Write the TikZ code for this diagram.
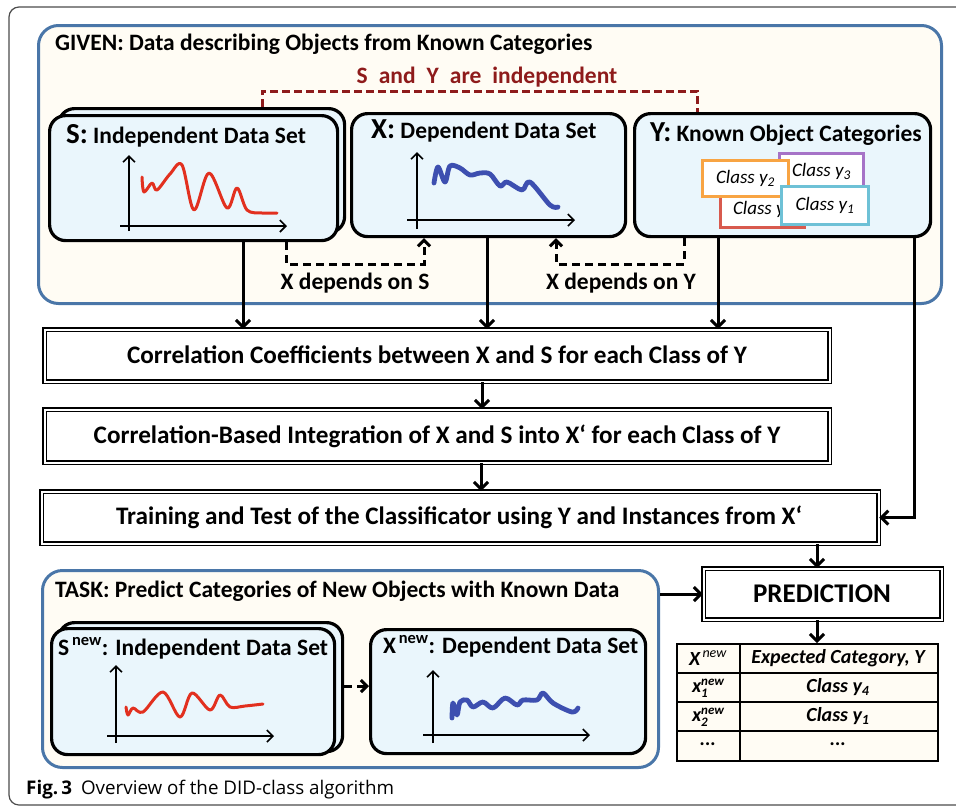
\documentclass[tikz,border=0pt]{standalone}
\usepackage{fontspec}
\setmainfont{Carlito}
\newfontfamily\capfont{Open Sans}
\usetikzlibrary{arrows.meta}
\newcommand\fsz[1]{\fontsize{#1}{#1}\selectfont}
\definecolor{panelblue}{HTML}{4A76A8}
\definecolor{cream}{HTML}{FFFCF4}
\definecolor{lightblue}{HTML}{EAF6FC}
\definecolor{darkred}{HTML}{8E1B1B}
\definecolor{curvered}{HTML}{E2301F}
\definecolor{curveblue}{HTML}{3D4FB0}
\definecolor{corange}{HTML}{F8A443}
\definecolor{cpurple}{HTML}{A673C7}
\definecolor{ccyan}{HTML}{6EC1D6}
\definecolor{cred}{HTML}{D85A4E}
\begin{document}
\begin{tikzpicture}[x=1pt,y=-1pt,
  panel/.style={draw=panelblue,line width=3pt,fill=cream,rounded corners=20pt,inner sep=0pt,anchor=north west},
  databox/.style={draw=black,line width=3.2pt,fill=lightblue,rounded corners=16pt,inner sep=0pt,anchor=north west},
  flowbox/.style={draw=black,double=white,double distance=2.2pt,line width=1.2pt,inner sep=0pt,anchor=north west},
  flowtxt/.style={inner sep=0pt,font=\bfseries\fsz{25.2}},
  cbox/.style={line width=3pt,fill=white,inner sep=0pt,anchor=north west,minimum width=84pt,minimum height=36pt,font=\itshape\fsz{19}},
  arr/.style={line width=3pt,-{Straight Barb[length=7pt,width=14pt]}},
  darr/.style={line width=3pt,dash pattern=on 8pt off 5pt,-{Straight Barb[length=6pt,width=12pt]}},
  reddash/.style={line width=3pt,draw=darkred,dash pattern=on 8pt off 4pt},
  axisarr/.style={line width=1.6pt,-{Straight Barb[length=6pt,width=12pt]}},
  redcurve/.style={line width=3pt,draw=curvered,line cap=round,line join=round},
  bluecurve/.style={line width=4.8pt,draw=curveblue,line cap=round,line join=round},
  lbl/.style={inner sep=0pt,font=\bfseries\fsz{23.5}},
  tcell/.style={inner sep=0pt,font=\bfseries\itshape\fsz{20}}
]
\useasboundingbox (0,0) rectangle (956,807);
% outer frame
\draw[line width=1.2pt,draw=black!70,rounded corners=10pt] (9,7) rectangle (1000,805);

% ===== GIVEN panel =====
\node[panel,minimum width=903pt,minimum height=278pt] (given) at (37,24) {};
\node[lbl,anchor=west] (giventitle) at (55,44) {GIVEN: Data describing Objects from Known Categories};
\node[lbl,text=darkred] (indep) at (487,77) {S\hspace{11pt}and\hspace{11pt}Y\hspace{11pt}are\hspace{11pt}independent};

% S box (stacked)
\node[databox,minimum width=286pt,minimum height=124pt] (Sback) at (57,107) {};
\node[databox,minimum width=288pt,minimum height=125pt] (S) at (48,114) {};
\node[inner sep=0pt,anchor=base west,font=\bfseries] (Stitle) at (66,143) {\fsz{29}S:\fsz{23.5} Independent Data Set};
\draw[axisarr] (129,231) -- (129,155);
\draw[axisarr] (120,226) -- (287,226);
\draw[redcurve] plot[smooth,tension=0.55] coordinates {(142,177) (144,192) (152,183) (157,190) (170,174) (182,165) (194,210) (209,173) (227,208) (237,188) (247,210) (262,213) (277,213)};

% X box
\node[databox,minimum width=274pt,minimum height=123pt] (X) at (350,112) {};
\node[inner sep=0pt,anchor=base west,font=\bfseries] (Xtitle) at (371,138) {\fsz{29}X:\fsz{23.5} Dependent Data Set};
\draw[axisarr] (417,229) -- (417,152);
\draw[axisarr] (407,220) -- (575,220);
\draw[bluecurve] plot[smooth,tension=0.55] coordinates {(434,183) (438,167) (445,182) (450,166) (460,168) (470,175) (480,173) (490,174) (500,186) (507,182) (522,190) (530,182) (550,205) (558,207)};

% Y box
\node[databox,minimum width=296pt,minimum height=123pt] (Y) at (633,112) {};
\node[inner sep=0pt,anchor=base west,font=\bfseries] (Ytitle) at (650,141) {\fsz{29}Y:\fsz{23.5} Known Object Categories};
\node[cbox,draw=cred] (c4) at (719,190) {Class y\textsubscript{4}};
\node[cbox,draw=cpurple] (c3) at (778,152) {Class y\textsubscript{3}};
\node[cbox,draw=corange,minimum width=86pt] (c2) at (701,159) {Class y\textsubscript{2}};
\node[cbox,draw=ccyan,minimum width=87pt,minimum height=38pt] (c1) at (780,185) {Class y\textsubscript{1}};

% dependencies
\coordinate (r1) at (262,91);
\coordinate (r2) at (697,91);
\draw[reddash] (Sback.north -| r1) -- (r1) -- (r2) -- (Y.north -| r2);
\coordinate (d1) at (286,264);
\coordinate (d2) at (424,264);
\coordinate (d3) at (684,264);
\coordinate (d4) at (556,264);
\draw[darr] (S.south -| d1) -- (d1) -- (d2) -- (X.south -| d2);
\draw[darr] (Y.south -| d3) -- (d3) -- (d4) -- (X.south -| d4);
\node[lbl] (depS) at (355,283) {X depends on S};
\node[lbl] (depY) at (621,283) {X depends on Y};

% ===== flow boxes =====
\node[flowbox,minimum width=785pt,minimum height=52pt] (corr) at (44,329) {};
\node[flowtxt] (corrtxt) at (437,355) {Correlation Coefficients between X and S for each Class of Y};
\node[flowbox,minimum width=785pt,minimum height=53pt] (integ) at (44,409) {};
\node[flowtxt] (integtxt) at (437,436) {Correlation-Based Integration of X and S into X‘ for each Class of Y};
\node[flowbox,minimum width=837pt,minimum height=52pt] (train) at (41,491) {};
\node[flowtxt] (traintxt) at (459,517) {Training and Test of the Classificator using Y and Instances from X‘};
\node[flowbox,minimum width=238pt,minimum height=51pt] (pred) at (703,568) {};
\node[inner sep=0pt,font=\bfseries\fsz{27}] (predtxt) at (822,594) {PREDICTION};

\coordinate (a1) at (243,0);
\coordinate (a2) at (487,0);
\coordinate (a3) at (718,0);
\coordinate (a4) at (914,0);
\coordinate (a5) at (482,0);
\coordinate (a6) at (481,0);
\coordinate (a7) at (817,0);
\draw[arr] (S.south -| a1) -- (corr.north -| a1);
\draw[arr] (X.south -| a2) -- (corr.north -| a2);
\draw[arr] (Y.south -| a3) -- (corr.north -| a3);
\draw[arr] (Y.south -| a4) |- (train.east);
\draw[arr] (corr.south -| a5) -- (integ.north -| a5);
\draw[arr] (integ.south -| a6) -- (train.north -| a6);
\draw[arr] (train.south -| a7) -- (pred.north -| a7);

% ===== TASK panel =====
\node[panel,minimum width=616pt,minimum height=197pt] (task) at (41,569) {};
\node[lbl,anchor=west] (tasktitle) at (55,591) {TASK: Predict Categories of New Objects with Known Data};
\node[databox,minimum width=284pt,minimum height=129pt] (Snewback) at (57,621) {};
\node[databox,minimum width=283pt,minimum height=126pt] (Snew) at (50,627) {};
\node[inner sep=0pt,anchor=base west,font=\bfseries\fsz{23.5}] (Snewtitle) at (58,655) {S\textsuperscript{\,new}: Independent Data Set};
\draw[axisarr] (116,743) -- (116,665);
\draw[axisarr] (107,736) -- (274,736);
\draw[redcurve] plot[smooth,tension=0.55] coordinates {(126,707) (128,715) (133,708) (143,712) (163,692) (180,717) (192,693) (210,710) (220,695) (230,707) (245,706) (263,704)};
\node[databox,minimum width=275pt,minimum height=124pt] (Xnew) at (369,628) {};
\node[inner sep=0pt,anchor=base west,font=\bfseries\fsz{23.5}] (Xnewtitle) at (383,653) {X\textsuperscript{\,new}: Dependent Data Set};
\draw[axisarr] (433,743) -- (433,670);
\draw[axisarr] (423,735) -- (590,735);
\draw[bluecurve] plot[smooth,tension=0.55] coordinates {(452,718) (453,703) (457,715) (460,702) (467,700) (473,707) (483,702) (493,708) (505,698) (517,705) (523,700) (537,700) (543,693) (553,703) (572,712) (578,708)};
\coordinate (d5) at (0,686);
\draw[darr] (Snewback.east |- d5) -- (Xnew.west |- d5);
\draw[arr] (task.east |- pred.west) -- (pred.west);

% ===== table =====
\node[draw=black,line width=2pt,fill=cream,inner sep=0pt,anchor=north west,minimum width=261pt,minimum height=117pt] (tab) at (676,643) {};
\draw[line width=2pt] (740,643) -- (740,760);
\draw[line width=2pt] (676,672.5) -- (937,672.5);
\draw[line width=2pt] (676,702) -- (937,702);
\draw[line width=2pt] (676,731) -- (937,731);
\draw[arr] (pred.south -| a7) -- (tab.north -| a7);
\node[tcell] (h1) at (708,658) {X\textsuperscript{\,\mdseries new}};
\node[tcell] (h2) at (838,658) {Expected Category, Y};
\node[tcell] (r1a) at (708,688) {x\rlap{\raisebox{-0.45ex}{\fsz{13}1}}\raisebox{0.75ex}{\fsz{13}new}};
\node[tcell] (r1b) at (838,687) {Class y\textsubscript{4}};
\node[tcell] (r2a) at (708,717) {x\rlap{\raisebox{-0.45ex}{\fsz{13}2}}\raisebox{0.75ex}{\fsz{13}new}};
\node[tcell] (r2b) at (838,716) {Class y\textsubscript{1}};
\node[tcell] (r3a) at (708,744) {...};
\node[tcell] (r3b) at (838,744) {...};

% caption
\node[inner sep=0pt,anchor=base west,font=\capfont\fsz{18.8}] (cap) at (26,794) {\textbf{Fig.\,3}\hspace{9pt}Overview of the DID-class algorithm};
\end{tikzpicture}
\end{document}
